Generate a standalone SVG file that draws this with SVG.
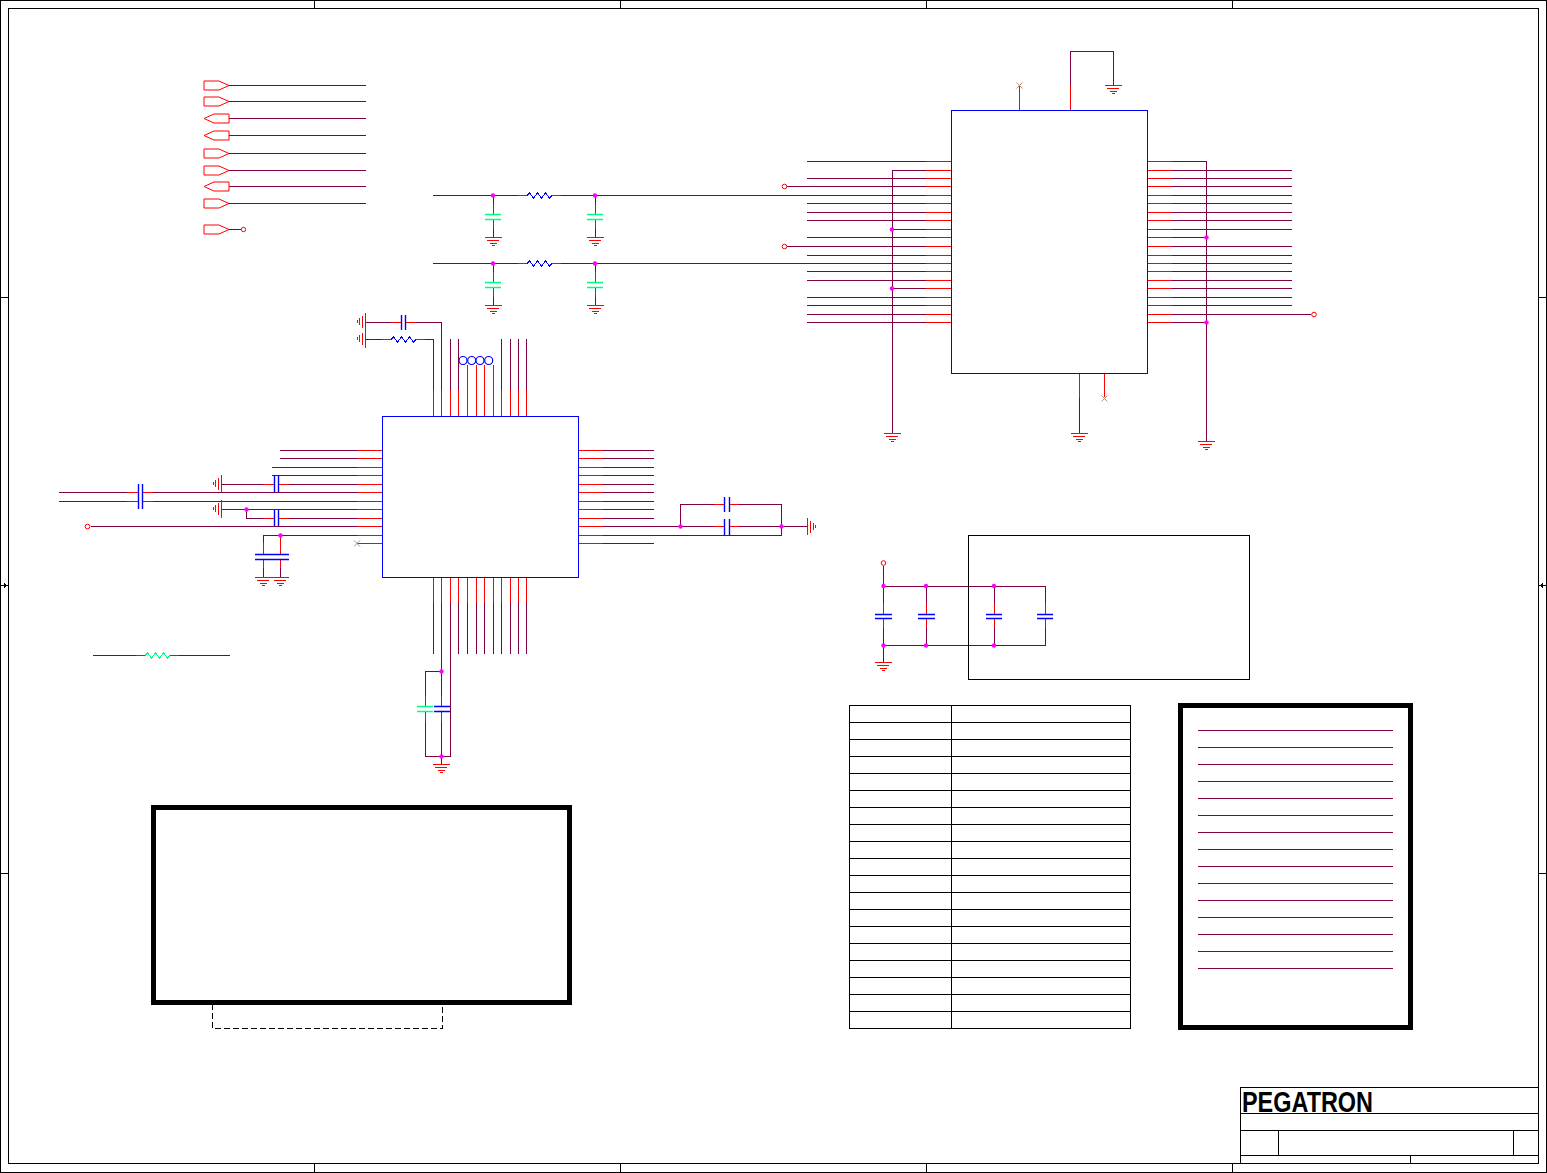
<svg xmlns="http://www.w3.org/2000/svg" xmlns:xlink="http://www.w3.org/1999/xlink" width="1547" height="1173" viewBox="0 0 1547 1173">
<style>
svg{background:#fff}
path,line,rect{shape-rendering:crispEdges}
.w{fill:none;stroke:#7f0040;stroke-width:1}
.p{fill:none;stroke:#f00;stroke-width:1}
.b{fill:none;stroke:#00f;stroke-width:1}
.pb{fill:none;stroke:#00f;stroke-width:1.400;shape-rendering:auto}
.pg{fill:none;stroke:#00ff80;stroke-width:1.400;shape-rendering:auto}
.k{fill:none;stroke:#000;stroke-width:1}
.K{fill:none;stroke:#000;stroke-width:5}
.z{fill:none;stroke:#00f;stroke-width:1.200;shape-rendering:auto}
.zg{fill:none;stroke:#00ff80;stroke-width:1.200;shape-rendering:auto}
.d{fill:#f0f;stroke:none}
.c{fill:none;stroke:#f00;stroke-width:1;shape-rendering:auto}
.cb{fill:#fff;stroke:#00f;stroke-width:1.200;shape-rendering:auto}
.x{fill:none;stroke:#b89078;stroke-width:1;shape-rendering:auto}
.port{fill:none;stroke:#f00;stroke-width:1;shape-rendering:auto}
.logo{font:bold 29px "Liberation Sans",Arial,sans-serif;fill:#000}
</style>
<defs>
<path id="gnd" class="p" d="M-9 .5H8.500M-6.500 3.500H5.500M-4 6.500H3M-2 8.500H1"/>
<path id="zig" d="M0 0L2.500-2.500L6.500 2.500L10.500-2.500L14.500 2.500L18.500-2.500L22.500 2.500L25 0"/>
<path id="pr" class="port" d="M0-4.500H15L25 0L15 4.500H0Z"/>
<path id="pl" class="port" d="M25-4.500H10L0 0L10 4.500H25Z"/>
</defs>

<g id="frame">
<rect class="k" x=".5" y=".5" width="1546" height="1172"/>
<rect class="k" x="8.500" y="8.500" width="1530" height="1155"/>
<path class="k" d="M314.500 0V8M620.500 0V8M926.500 0V8M1232.500 0V8M314.500 1164V1172M620.500 1164V1172M926.500 1164V1172M1232.500 1164V1172M0 297.500H8M0 873.500H8M1539 297.500H1547M1539 873.500H1547M0 585.500H8M1539 585.500H1547"/>
<path d="M8 585.500L4 583V588ZM1539 585.500L1543 583V588Z" fill="#000"/>
</g>

<g id="connectors">
<path class="w" d="M229 85.500H366M229 101.500H366M229 118.500H366M229 135.500H366M229 153.500H366M229 170.500H366M229 186.500H366M229 203.500H366M229 229.500H241"/>
<path class="w" d="M433 195.500H518M561 195.500H926M433 263.500H518M561 263.500H926M493.500 195V204M493.500 229V238M595.500 195V204M595.500 229V238M493.500 263V272M493.500 297V306M595.500 263V272M595.500 297V306"/>
<path class="w" d="M807 161.500H926M892.500 170.500H926M807 178.500H926M787 186.500H926M807 203.500H926M807 212.500H926M807 220.500H926M892.500 229.500H926M807 237.500H926M787 246.500H926M807 255.500H926M807 271.500H926M807 280.500H926M892.500 288.500H926M807 297.500H926M807 305.500H926M807 314.500H926M807 322.500H926M892.500 170V434"/>
<path class="w" d="M1172 161.500H1206.500V441M1172 170.500H1292M1172 178.500H1292M1172 186.500H1292M1172 195.500H1292M1172 203.500H1292M1172 212.500H1292M1172 220.500H1292M1172 229.500H1292M1172 237.500H1206M1172 246.500H1292M1172 255.500H1292M1172 263.500H1292M1172 271.500H1292M1172 280.500H1292M1172 288.500H1292M1172 297.500H1292M1172 305.500H1292M1172 314.500H1311M1172 322.500H1206"/>
<path class="w" d="M1070.500 85V51.500H1113.500V85M1079.500 398V433"/>
<path class="w" d="M433.500 390V339.500H425M382 339.500H366M441.500 390V322.500H416M391 322.500H366M450.500 390V339M458.500 390V339M467.500 390V373M476.500 390V373M484.500 390V373M493.500 390V373M501.500 390V339M510.500 390V339M518.500 390V339M526.500 390V339"/>
<path class="w" d="M357 450.500H280M357 458.500H280M357 467.500H271.500M357 475.500H271.500M357 484.500H289M263 484.500H222M357 492.500H153M127 492.500H59M357 501.500H153M127 501.500H59M357 509.500H222M357 518.500H289M263 518.500H246.500V509.500M357 526.500H91M357 535.500H263.500V543M263.500 568V577M280.500 568V577"/>
<path class="w" d="M603 450.500H654M603 458.500H654M603 467.500H654M603 475.500H654M603 484.500H654M603 492.500H654M603 501.500H654M603 509.500H654M603 518.500H654M603 526.500H714M739 526.500H807M603 535.500H781.500V504.500H739M714 504.500H680.500V526M603 543.500H654"/>
<path class="w" d="M433.500 603V654M441.500 603V696M441.500 722V764M450.500 603V756.500H425.500V722M425.500 696V671.500H441M458.500 603V654M467.500 603V654M476.500 603V654M484.500 603V654M493.500 603V654M501.500 603V654M510.500 603V654M518.500 603V654M526.500 603V654"/>
<path class="w" d="M883.500 566V603M883.500 628V662M883.500 586.500H1045.500V603M1045.500 628V645.500H883.500M926.500 586V603M926.500 628V645M994.500 586V603M994.500 628V645"/>
<path class="w" d="M93 655.500H136M179 655.500H230"/>
</g>

<g id="ports">
<use xlink:href="#pr" href="#pr" x="204" y="85.500"/><use href="#pr" xlink:href="#pr" x="204" y="101.500"/><use href="#pl" xlink:href="#pl" x="204" y="118.500"/><use href="#pl" xlink:href="#pl" x="204" y="135.500"/><use href="#pr" xlink:href="#pr" x="204" y="153.500"/><use href="#pr" xlink:href="#pr" x="204" y="170.500"/><use href="#pl" xlink:href="#pl" x="204" y="186.500"/><use href="#pr" xlink:href="#pr" x="204" y="203.500"/><use href="#pr" xlink:href="#pr" x="204" y="229.500"/>
<circle class="c" cx="243.500" cy="229.500" r="2.200"/>
<circle class="c" cx="784.500" cy="186.500" r="2.300"/>
<circle class="c" cx="784.500" cy="246.500" r="2.300"/>
<circle class="c" cx="1314" cy="314.500" r="2.300"/>
<circle class="c" cx="87.500" cy="526.500" r="2.300"/>
<circle class="c" cx="883.500" cy="563" r="2.300"/>
</g>

<g id="U1">
<rect class="b" x="951.500" y="110.500" width="196" height="263"/>
<path class="p" d="M926 161.500H951M926 170.500H951M926 178.500H951M926 186.500H951M926 195.500H951M926 203.500H951M926 212.500H951M926 220.500H951M926 229.500H951M926 237.500H951M926 246.500H951M926 255.500H951M926 263.500H951M926 271.500H951M926 280.500H951M926 288.500H951M926 297.500H951M926 305.500H951M926 314.500H951M926 322.500H951"/>
<path class="p" d="M1148 161.500H1172M1148 170.500H1172M1148 178.500H1172M1148 186.500H1172M1148 195.500H1172M1148 203.500H1172M1148 212.500H1172M1148 220.500H1172M1148 229.500H1172M1148 237.500H1172M1148 246.500H1172M1148 255.500H1172M1148 263.500H1172M1148 271.500H1172M1148 280.500H1172M1148 288.500H1172M1148 297.500H1172M1148 305.500H1172M1148 314.500H1172M1148 322.500H1172"/>
<path class="p" d="M1019.500 110V85M1070.500 110V85M1079.500 374V398M1104.500 374V397"/>
<path class="x" d="M1016.500 82.500L1022.500 88.500M1022.500 82.500L1016.500 88.500M1101.500 395.500L1107.500 401.500M1107.500 395.500L1101.500 401.500"/>
</g>

<g id="U2">
<rect class="b" x="382.500" y="416.500" width="196" height="161"/>
<path class="p" d="M433.500 416V390M441.500 416V390M450.500 416V390M458.500 416V390M467.500 416V365M476.500 416V365M484.500 416V365M493.500 416V365M501.500 416V390M510.500 416V390M518.500 416V390M526.500 416V390"/>
<path class="p" d="M357 450.500H382M357 458.500H382M357 467.500H382M357 475.500H382M357 484.500H382M357 492.500H382M357 501.500H382M357 509.500H382M357 518.500H382M357 526.500H382M357 535.500H382M357 543.500H382"/>
<path class="p" d="M579 450.500H603M579 458.500H603M579 467.500H603M579 475.500H603M579 484.500H603M579 492.500H603M579 501.500H603M579 509.500H603M579 518.500H603M579 526.500H603M579 535.500H603M579 543.500H603"/>
<path class="p" d="M433.500 578V603M441.500 578V603M450.500 578V603M458.500 578V603M467.500 578V603M476.500 578V603M484.500 578V603M493.500 578V603M501.500 578V603M510.500 578V603M518.500 578V603M526.500 578V603"/>
<path class="x" d="M354 540.500L360 546.500M360 540.500L354 546.500"/>
</g>

<g id="loops">
<circle class="cb" cx="463" cy="360.500" r="4"/><circle class="cb" cx="471.700" cy="360.500" r="4"/><circle class="cb" cx="480" cy="360.500" r="4"/><circle class="cb" cx="488.700" cy="360.500" r="4"/>
</g>

<g id="R1"><path class="p" d="M518 195.500H527M552 195.500H561"/><use href="#zig" xlink:href="#zig" class="z" x="527" y="195.500"/></g>
<g id="R2"><path class="p" d="M518 263.500H527M552 263.500H561"/><use href="#zig" xlink:href="#zig" class="z" x="527" y="263.500"/></g>
<g id="R3"><path class="p" d="M382 339.500H391M416 339.500H425"/><use href="#zig" xlink:href="#zig" class="z" x="391" y="339.500"/></g>
<g id="R4"><path class="p" d="M136 655.500H145M170 655.500H179"/><use href="#zig" xlink:href="#zig" class="zg" x="145" y="655.500"/></g>

<g id="C1"><path class="p" d="M493.500 204V214M493.500 220V229"/><path class="pg" d="M485 214.500H501M485 219.500H501"/></g>
<g id="C2"><path class="p" d="M595.500 204V214M595.500 220V229"/><path class="pg" d="M587 214.500H603M587 219.500H603"/></g>
<g id="C3"><path class="p" d="M493.500 272V282M493.500 288V297"/><path class="pg" d="M485 282.500H501M485 287.500H501"/></g>
<g id="C4"><path class="p" d="M595.500 272V282M595.500 288V297"/><path class="pg" d="M587 282.500H603M587 287.500H603"/></g>
<g id="C5"><path class="p" d="M391 322.500H401M406 322.500H416"/><path class="pb" d="M401.500 315V330M405.500 315V330"/></g>
<g id="C6"><path class="p" d="M127 492.500H138M143 492.500H153M127 501.500H138M143 501.500H153"/><path class="pb" d="M138.500 484V509M142.500 484V509"/></g>
<g id="C7"><path class="p" d="M263 484.500H274M279 484.500H289"/><path class="pb" d="M274.500 475V492M278.500 475V492"/></g>
<g id="C8"><path class="p" d="M263 518.500H274M279 518.500H289"/><path class="pb" d="M274.500 510V526M278.500 510V526"/></g>
<g id="C9"><path class="p" d="M263.500 543V554M263.500 560V568M280.500 535V554M280.500 560V568"/><path class="pb" d="M255 554.500H289M255 559.500H289"/></g>
<g id="C10"><path class="p" d="M714 504.500H724M730 504.500H739"/><path class="pb" d="M724.500 497V512M729.500 497V512"/></g>
<g id="C11"><path class="p" d="M714 526.500H724M730 526.500H739"/><path class="pb" d="M724.500 519V535M729.500 519V535"/></g>
<g id="C12"><path class="p" d="M425.500 696V706M425.500 712V722M441.500 696V706M441.500 712V722"/><path class="pg" d="M417 706.500H433M417 711.500H433"/><path class="pb" d="M434 706.500H450M434 711.500H450"/></g>
<g id="C13"><path class="p" d="M883.500 603V614M883.500 619V628"/><path class="pb" d="M875 614.500H892M875 618.500H892"/></g>
<g id="C14"><path class="p" d="M926.500 603V614M926.500 619V628"/><path class="pb" d="M918 614.500H935M918 618.500H935"/></g>
<g id="C15"><path class="p" d="M994.500 603V614M994.500 619V628"/><path class="pb" d="M986 614.500H1002M986 618.500H1002"/></g>
<g id="C16"><path class="p" d="M1045.500 603V614M1045.500 619V628"/><path class="pb" d="M1037 614.500H1053M1037 618.500H1053"/></g>

<g id="grounds">
<use href="#gnd" xlink:href="#gnd" x="493.500" y="237"/><use href="#gnd" xlink:href="#gnd" x="595.500" y="237"/><use href="#gnd" xlink:href="#gnd" x="493.500" y="305"/><use href="#gnd" xlink:href="#gnd" x="595.500" y="305"/>
<use href="#gnd" xlink:href="#gnd" x="892.500" y="433"/><use href="#gnd" xlink:href="#gnd" x="1079.500" y="433"/><use href="#gnd" xlink:href="#gnd" x="1206.500" y="441"/><use href="#gnd" xlink:href="#gnd" x="1113.500" y="85"/>
<use href="#gnd" xlink:href="#gnd" x="263.500" y="577"/><use href="#gnd" xlink:href="#gnd" x="280.500" y="577"/><use href="#gnd" xlink:href="#gnd" x="441.500" y="764"/><use href="#gnd" xlink:href="#gnd" x="883.500" y="662"/>
<use href="#gnd" xlink:href="#gnd" transform="translate(366 322) rotate(90)"/><use href="#gnd" xlink:href="#gnd" transform="translate(366 339) rotate(90)"/>
<use href="#gnd" xlink:href="#gnd" transform="translate(222 484) rotate(90)"/><use href="#gnd" xlink:href="#gnd" transform="translate(222 509) rotate(90)"/>
<use href="#gnd" xlink:href="#gnd" transform="translate(807 526) rotate(-90)"/>
</g>

<g id="junctions" class="d">
<circle cx="493" cy="195.500" r="2.200"/><circle cx="595" cy="195.500" r="2.200"/><circle cx="493" cy="263.500" r="2.200"/><circle cx="595" cy="263.500" r="2.200"/>
<circle cx="892" cy="229.500" r="2.200"/><circle cx="892" cy="288.500" r="2.200"/><circle cx="1206.500" cy="237.500" r="2.200"/><circle cx="1206.500" cy="322.500" r="2.200"/>
<circle cx="246.500" cy="509.500" r="2.200"/><circle cx="280.500" cy="535.500" r="2.200"/><circle cx="680.500" cy="526.500" r="2.200"/><circle cx="781.500" cy="526.500" r="2.200"/>
<circle cx="441.500" cy="671.500" r="2.200"/><circle cx="441.500" cy="756.500" r="2.200"/>
<circle cx="883.500" cy="586" r="2.200"/><circle cx="926" cy="586" r="2.200"/><circle cx="994" cy="586" r="2.200"/><circle cx="883.500" cy="645.500" r="2.200"/><circle cx="926" cy="645.500" r="2.200"/><circle cx="994" cy="645.500" r="2.200"/>
</g>

<g id="box-power"><rect class="k" x="968.500" y="535.500" width="281" height="144"/></g>

<g id="table">
<rect class="k" x="849.500" y="705.500" width="281" height="323"/>
<path class="k" d="M951.500 705V1028M849 722.500H1130M849 739.500H1130M849 756.500H1130M849 773.500H1130M849 790.500H1130M849 807.500H1130M849 824.500H1130M849 841.500H1130M849 858.500H1130M849 875.500H1130M849 892.500H1130M849 909.500H1130M849 926.500H1130M849 943.500H1130M849 960.500H1130M849 977.500H1130M849 994.500H1130M849 1011.500H1130"/>
</g>

<g id="box-list">
<rect class="K" x="1180.500" y="705.500" width="230" height="322"/>
<path class="w" d="M1198 730.500H1393M1198 747.500H1393M1198 764.500H1393M1198 781.500H1393M1198 798.500H1393M1198 815.500H1393M1198 832.500H1393M1198 849.500H1393M1198 866.500H1393M1198 883.500H1393M1198 900.500H1393M1198 917.500H1393M1198 934.500H1393M1198 951.500H1393M1198 968.500H1393"/>
</g>

<g id="box-note">
<rect class="K" x="153.500" y="807.500" width="416" height="195"/>
<path class="k" stroke-dasharray="6 3" d="M212.500 1004V1028.500H442.500V1004"/>
</g>

<g id="title-block">
<path class="k" d="M1240.500 1163V1087.500H1538M1241 1113.500H1538M1241 1130.500H1538M1241 1155.500H1538M1278.500 1130V1155M1513.500 1130V1155M1410.500 1155V1163"/>
<text class="logo" x="1242" y="1111.500" textLength="131" lengthAdjust="spacingAndGlyphs">PEGATRON</text>
</g>
</svg>
